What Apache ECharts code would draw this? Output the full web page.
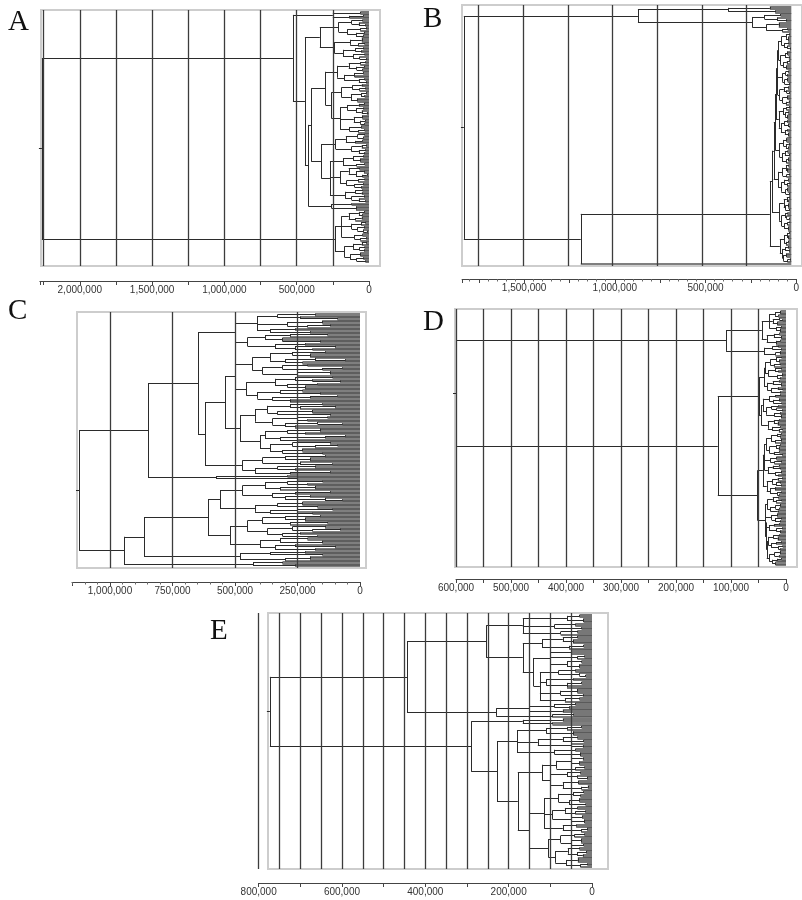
<!DOCTYPE html>
<html><head><meta charset="utf-8">
<script src="https://cdn.jsdelivr.net/npm/echarts@6/dist/echarts.min.js"></script>
<style>html,body{margin:0;padding:0;background:#fff}#c{width:802px;height:900px}</style>
</head><body><div id="c"></div>
<script>
// ---- DATA (merge heights in thousands; a leaf is 0; a node is [height, ...children]) ----
const treeA = [2262,
  [526,
    [250,[60,0,0],[135,[40,0,0],0]],
    [443,
      [340,
        [210,[120,[45,0,0],[70,0,[25,0,0]]],[150,[60,[20,0,0],0],[90,[35,0,0],[40,0,0]]]],
        [240,[130,[50,0,0,0],[75,[30,0,0],0]],[180,[95,[40,0,0],[55,0,0]],[110,[30,0,0],[65,0,[20,0,0]]]]]],
      [420,
        [400,
          [300,
            [220,[140,[60,[25,0,0],0],[85,[35,0,0],[45,0,0]]],[170,[100,[40,0,0],0,0],[70,[30,0,0],[20,0,0]]]],
            [260,
              [190,[115,[50,0,0],[65,[25,0,0],0]],[125,[55,[20,0,0],[30,0,0]],[80,0,0,0]]],
              [200,[150,[70,[35,0,0],0],[90,[40,0,0],[50,0,[15,0,0]]]],[105,[45,0,0,0],[60,[25,0,0],[30,0,0]]],[135,[55,0,0],[75,[30,0,0],0]]]]],
          [330,
            [230,[160,[80,[30,0,0],[40,0,0]],[95,[45,0,0],0]],[120,[50,[20,0,0],0],[70,[25,0,0],[35,0,0]]]],
            [270,
              [180,[110,[40,0,0],[60,0,0,0]],[85,[30,0,0],0]],
              [200,[140,[65,0,0],[90,[35,0,0],[45,[15,0,0],0]]],[155,[75,[30,0,0],0],[100,[40,0,0],[55,0,0]]]],
              [165,[95,[45,0,0],[50,0,0]],[120,[35,0,0],[70,0,[25,0,0]]]]]]],
        [260,[120,0,0],[90,0,0,0]]]]],
  [235,
    [190,[140,[70,[30,0,0],[45,0,0]],[95,[50,0,0],0]],[120,[55,[25,0,0],0],[80,[35,0,0],[40,0,[15,0,0]]]],[100,[45,0,0],[60,[20,0,0],0]]],
    [170,[110,[50,[20,0,0],0],[65,[30,0,0],[35,0,0]]],[130,[60,0,0,0],[85,[40,0,0],[25,0,0]]]]]
];

const treeB = [1832,
  [858,
    [353,[120,0,0],[90,0,0]],
    [217,[150,[60,0,0],[80,0,[30,0,0]]],[140,[70,0,0,0],[50,[20,0,0],0]]]],
  [1178,
    [120,
      [108,
        [98,
          [90,
            [84,
              [78,
                [72,[55,[30,[12,0,0],[18,0,0,0]],[40,[15,0,0],[22,0,[8,0,0]]]],[60,[35,[20,0,0,0],[14,0,0]],[45,[25,[10,0,0],0],[28,0,0,0]]]],
                [76,[50,[32,[16,0,0],[24,0,0]],[38,[20,0,0,0],[12,0,0]]],[65,[42,[18,0,0],[26,0,[10,0,0]]],[48,[22,0,0,0],[30,[14,0,0],0]]]]],
              [70,[46,[28,[12,0,0],0],[34,[16,0,0],[20,0,0,0]]],[58,[40,[24,0,0],[18,0,[9,0,0]]],[36,[22,0,0],[15,0,0,0]]]]],
            [66,[44,[26,0,0,0],[30,[14,0,0],[18,0,0]]],[52,[36,[20,0,0],[12,0,0]],[28,[16,0,0,0],0]]]],
          [74,[48,[30,[15,0,0],[22,0,0,0]],[26,[11,0,0],0]],[56,[38,[18,0,0],[24,[10,0,0],0]],[32,[20,0,0,0],[13,0,0]]]]],
        [68,[42,[25,[12,0,0],[16,0,0]],[33,[18,0,0,0],[10,0,0]]],[54,[35,[20,0,0],[27,0,[11,0,0]]],[40,[22,[9,0,0],0],[17,0,0,0]]]]],
      [64,[40,[24,[10,0,0],[15,0,0,0]],[30,[17,0,0],0]],[50,[34,[19,0,0],[13,0,0]],[44,[26,0,0,0],[21,[8,0,0],0]]]]],
    0]
];

const treeC = [1124,
  [848,
    [648,
      [500,
        [412,[330,[180,0,0],[240,0,[90,0,0]]],[290,[150,0,0,0],[210,[120,0,0],0]],[360,[260,0,0],[200,0,0]]],
        [450,[380,[280,[130,0,0],0],[310,0,0,[160,0,0]]],[340,[220,0,0],[260,[100,0,0],[190,0,0]]]]],
      [620,
        [540,
          [500,
            [430,[360,[270,[140,0,0],[200,0,0,0]],[300,[180,0,[60,0,0]],[230,0,0]]],[390,[310,[210,0,0],[150,[70,0,0],0]],[250,[120,0,0,0],0]]],
            [455,[340,[260,[110,0,0],[190,0,[80,0,0]]],[290,[170,0,0],[220,0,0,0]]],[410,[320,[230,0,0],[160,0,0]],[350,[200,[90,0,0],0],[280,0,0,0]]]]],
          [480,
            [420,[370,[280,[150,0,0],[240,[100,0,0],0]],[330,[190,0,0,0],[120,0,0]]],[350,[250,[130,0,0],[210,0,0]],[300,[170,0,[70,0,0]],[260,0,0]]]],
            [400,[380,[290,[160,0,0,0],[220,0,0]],[320,[140,[60,0,0],0],[250,0,0]]],[360,[270,[120,0,0],[180,[90,0,0],0]],[310,[230,0,0,0],[150,0,0]]]]]],
        [470,[390,[300,[140,0,0],[200,0,0,0]],[240,0,[110,0,0]]],[420,[330,[180,0,0],[260,0,0]],[280,[120,0,0],0]]]]],
    [576,[290,0,0],[250,0,0]]],
  [944,
    [864,
      [608,
        [560,
          [470,[380,[290,[150,0,0],[210,0,0]],[320,[180,0,0,0],0]],[350,[260,[120,0,0],0],[300,[200,0,0],[140,0,[70,0,0]]]]],
          [420,[330,[230,0,0,0],[170,0,0]],[360,[250,[110,0,0],0],[190,0,0]]]],
        [520,
          [450,[390,[300,[160,0,0],[220,0,0,0]],[280,[130,0,0],0]],[370,[270,[140,0,0],[190,[80,0,0],0]],[310,[240,0,0],[170,0,0]]]],
          [400,[320,[210,0,0],[150,0,0,0]],[340,[260,0,[100,0,0]],[180,0,0]]]]],
      [480,[360,[220,0,0],[150,0,0]],[300,[200,0,0,0],0]]],
    [428,[310,0,0],[260,0,0]]]
];

const treeD = [600,
  [109,
    [44,
      [30,[20,[10,0,0,0],[14,0,0]],[24,[12,0,[6,0,0]],[16,0,0,0]],[18,[9,0,0],[11,0,0,0]]],
      [35,[22,[12,0,0],[8,0,0,0]],[18,[10,0,0],0,0]]],
    [40,[25,[14,0,0],[9,0,0]],[19,[11,0,0,0],0]]],
  [124,
    [49,
      [40,
        [38,[28,[18,[8,0,0],[12,0,0,0]],[22,[10,0,0],0]],[32,[20,[9,0,0],[14,0,0]],[16,[7,0,0,0],[11,0,0]]]],
        [34,[24,[13,0,0],[9,0,0,0]],[27,[15,0,[6,0,0]],[11,0,0]]]],
      [45,
        [42,[30,[19,[10,0,0],0],[23,[12,0,0,0],[8,0,0]]],[36,[26,[14,0,0],[17,0,[7,0,0]]],[21,[11,0,0],[9,0,0,0]]]],
        [33,[22,[12,0,0],[15,0,0,0]],[25,[10,0,0],[13,[6,0,0],0]]]]],
    [52,
      [42,
        [40,
          [36,[27,[16,[8,0,0],[11,0,0]],[20,[9,0,0,0],0]],[30,[18,[10,0,0],[13,0,0,0]],[22,[12,0,0],[7,0,0]]]],
          [39,[28,[17,0,0,0],[21,[9,0,0],0]],[33,[24,[13,0,0],[10,0,0]],[19,[8,0,0,0],[14,0,0]]]]],
        [35,[25,[15,[7,0,0],0],[18,[11,0,0],[9,0,0]]],[29,[20,0,0,0],[16,[8,0,0],[12,0,0]]]]],
      [38,
        [34,[24,[14,0,0],[18,[8,0,0],0]],[28,[19,[10,0,0,0],[12,0,0]],[15,0,0]]],
        [36,
          [37,[26,[16,0,0,0],[20,[9,0,0],[11,0,0]]],[31,[22,[13,0,0],0],[17,[7,0,0],[10,0,0,0]]]],
          [35,
            [32,[23,[12,0,0],[15,0,0,0]],[27,[18,[9,0,0],0],[14,[6,0,0],[10,0,0]]]],
            [30,[21,[11,0,0,0],[13,0,0]],[25,[16,[8,0,0],0],[19,0,0,0]]]]]]]]
];

const treeE = [773,
  [444,
    [254,
      [166,[60,[30,0,0],[20,0,0,0]],[90,[40,0,0],[25,0,0]],[75,[35,0,0],0]],
      [166,
        [120,[70,[35,0,0],[45,0,0,0]],[55,[20,0,0],0]],
        [140,
          [100,[50,0,0,0],[35,[18,0,0],0],[60,[25,0,0],[30,0,0,0]]],
          [125,[80,[40,0,0],[30,0,[15,0,0]]],[110,[45,0,0],[60,[25,0,0],0,0]],[75,[35,0,0,0],[22,0,0]],[65,[30,0,0],0]]]]],
    [230,[150,[90,[40,0,0],[55,0,0]],[70,0,0]],[180,[95,[45,0,0],0]]]],
  [290,
    [166,[70,0,0],[95,0,0]],
    [228,
      [180,[110,[60,[25,0,0],0],[45,0,0,0]],[130,[70,[35,0,0],[20,0,0]],[50,0,[22,0,0]]],[90,[40,0,0],[28,0,0,0]]],
      [178,
        [120,[85,[50,[22,0,0],[30,0,0,0]],[40,[18,0,0],0]],[100,[60,[28,0,0],[35,0,[12,0,0]]],[70,[32,0,0,0],[25,[10,0,0],0]]]],
        [150,
          [115,[80,[45,[20,0,0],[28,0,0]],[55,[30,0,0,0],[15,0,0]]],[95,[65,[35,0,0],[40,[16,0,0],0]],[50,[24,0,0],[18,0,0,0]]],[70,[38,0,0],[26,[12,0,0],0]]],
          [105,[75,[42,[18,0,0],0],[50,[26,0,0,0],[20,0,0]]],[88,[58,[30,0,0],[36,[14,0,0],[22,0,0]]],[62,[34,0,0,0],[28,[11,0,0],0]]]]]]]]
];

// axis tick labels (thousands) and vertical reference lines (thousands)
const labelsA = [0, 500, 1000, 1500, 2000];
const labelsB = [0, 500, 1000, 1500];
const labelsC = [0, 250, 500, 750, 1000];
const labelsD = [0, 100, 200, 300, 400, 500, 600];
const labelsE = [0, 200, 400, 600, 800];
const gridA = [250, 500, 750, 1000, 1250, 1500, 1750, 2000, 2250];
const gridB = [250, 500, 750, 1000, 1250, 1500, 1750];
const gridC = [250, 500, 750, 1000];
const gridD = [50, 100, 150, 200, 250, 300, 350, 400, 450, 500, 550, 600];
const gridE = [50, 100, 150, 200, 250, 300, 350, 400, 450, 500, 550, 600, 650, 700, 750, 800];
const panelNames = ['A', 'B', 'C', 'D', 'E'];

// ---- LAYOUT / STYLE (pixels) ----
const LAYOUT = {
  A: {x0: 369, ppk: 0.1446, box: [41, 10, 380, 266], leaf: [12, 262], axisY: 281, axisMax: 2276, tickStep: 250, minor: 1, letter: [8, 7.5], stub: 3, leafW: 1.6},
  B: {x0: 801, ppk: 0.184, box: [462, 5, 812, 266], leaf: [7, 264], axisY: 279, axisMax: 1842, tickStep: 250, minor: 5, letter: [423, 4.5], stub: 3, leafW: 1.6},
  C: {x0: 360, ppk: 0.25, box: [77, 312, 366, 568], leaf: [314, 566], axisY: 582, axisMax: 1152, tickStep: 250, minor: 5, letter: [8, 297], stub: 3, leafW: 1.5},
  D: {x0: 786, ppk: 0.55, box: [455, 309, 797, 567], leaf: [311, 565], axisY: 579, axisMax: 600, tickStep: 50, minor: 1, letter: [423, 307.5], stub: 3, leafW: 1.5},
  E: {x0: 592, ppk: 0.4167, box: [268, 613, 608, 869], leaf: [615, 867], axisY: 883, axisMax: 800, tickStep: 100, minor: 1, letter: [210, 617], stub: 3, leafW: 1.6}
};
const TREES = {A: treeA, B: treeB, C: treeC, D: treeD, E: treeE};
const LABELS = {A: labelsA, B: labelsB, C: labelsC, D: labelsD, E: labelsE};
const GRIDV = {A: gridA, B: gridB, C: gridC, D: gridD, E: gridE};

function comma(n) { return String(Math.round(n)).replace(/\B(?=(\d{3})+(?!\d))/g, ','); }

function layoutTree(tree) {
  const segs = [], leafSegs = []; let n = 0;
  function walk(node) {
    if (node === 0) return {y: n++, h: 0};
    const h = node[0];
    const kids = node.slice(1).map(walk);
    let lo = Infinity, hi = -Infinity;
    kids.forEach(k => {
      (k.h === 0 ? leafSegs : segs).push([[h, k.y], [k.h, k.y]]);
      lo = Math.min(lo, k.y); hi = Math.max(hi, k.y);
    });
    segs.push([[h, lo], [h, hi]]);
    return {y: (lo + hi) / 2, h: h};
  }
  const root = walk(tree);
  return {segs, leafSegs, n, root};
}

const grids = [], xAxes = [], yAxes = [], series = [], graphics = [];
panelNames.forEach((p, i) => {
  const L = LAYOUT[p];
  const T = layoutTree(TREES[p]);
  const [bl, bt, br, bb] = L.box;
  const sp = (L.leaf[1] - L.leaf[0]) / (T.n - 1);
  const yMin = -(L.leaf[0] - bt) / sp;
  const yMax = (T.n - 1) + (bb - L.leaf[1]) / sp;
  grids.push({left: bl, top: bt, width: br - bl, height: bb - bt, show: true, borderColor: '#cdcdcd', borderWidth: 2, backgroundColor: 'rgba(0,0,0,0)'});
  xAxes.push({type: 'value', gridIndex: 2 * i, min: -(br - L.x0) / L.ppk, max: (L.x0 - bl) / L.ppk, inverse: true, show: false});
  yAxes.push({type: 'value', gridIndex: 2 * i, min: yMin, max: yMax, inverse: true, show: false});
  const axLeft = L.x0 - L.axisMax * L.ppk;
  grids.push({left: axLeft, top: L.axisY - 1, width: L.axisMax * L.ppk, height: 1, show: false});
  const labs = LABELS[p];
  xAxes.push({
    type: 'value', gridIndex: 2 * i + 1, min: 0, max: L.axisMax, inverse: true, interval: L.tickStep, position: 'bottom',
    axisLine: {show: true, lineStyle: {color: '#444', width: 1}},
    axisTick: {show: true, length: 4, lineStyle: {color: '#444', width: 1}},
    minorTick: {show: L.minor > 1, splitNumber: L.minor, length: 2.5, lineStyle: {color: '#666', width: 1}},
    splitLine: {show: false},
    axisLabel: {show: true, margin: 4, fontSize: 10, color: '#333', fontFamily: 'Liberation Sans, Arial, sans-serif',
      showMinLabel: true, showMaxLabel: true,
      formatter: v => (labs.indexOf(Math.round(v)) >= 0 && Math.abs(v - Math.round(v)) < 1e-6) ? comma(v * 1000) : ''}
  });
  yAxes.push({type: 'value', gridIndex: 2 * i + 1, min: 0, max: 1, show: false});
  const rootStub = [[T.root.h, T.root.y], [T.root.h + L.stub / L.ppk, T.root.y]];
  series.push({
    type: 'lines', coordinateSystem: 'cartesian2d', xAxisIndex: 2 * i, yAxisIndex: 2 * i, silent: true, z: 2,
    lineStyle: {color: '#555555', width: L.leafW, opacity: 1}, clip: false,
    data: T.leafSegs.map(s => ({coords: s}))
  });
  series.push({
    type: 'lines', coordinateSystem: 'cartesian2d', xAxisIndex: 2 * i, yAxisIndex: 2 * i, silent: true, z: 3,
    lineStyle: {color: '#2b2b2b', width: 1, opacity: 1}, clip: false,
    data: T.segs.concat([rootStub]).map(s => ({coords: s}))
  });
  series.push({
    type: 'lines', coordinateSystem: 'cartesian2d', xAxisIndex: 2 * i, yAxisIndex: 2 * i, silent: true, z: 4,
    lineStyle: {color: '#3c3c3c', width: 1.3, opacity: 1}, clip: false,
    data: GRIDV[p].map(v => ({coords: [[v, yMin], [v, yMax]]}))
  });
  graphics.push({type: 'text', left: L.letter[0], top: L.letter[1], style: {text: p, font: '29px "Liberation Serif", "Times New Roman", serif', fill: '#111'}});
});

const chart = echarts.init(document.getElementById('c'), null, {renderer: 'canvas'});
chart.setOption({animation: false, grid: grids, xAxis: xAxes, yAxis: yAxes, series: series, graphic: graphics});
</script></body></html>
